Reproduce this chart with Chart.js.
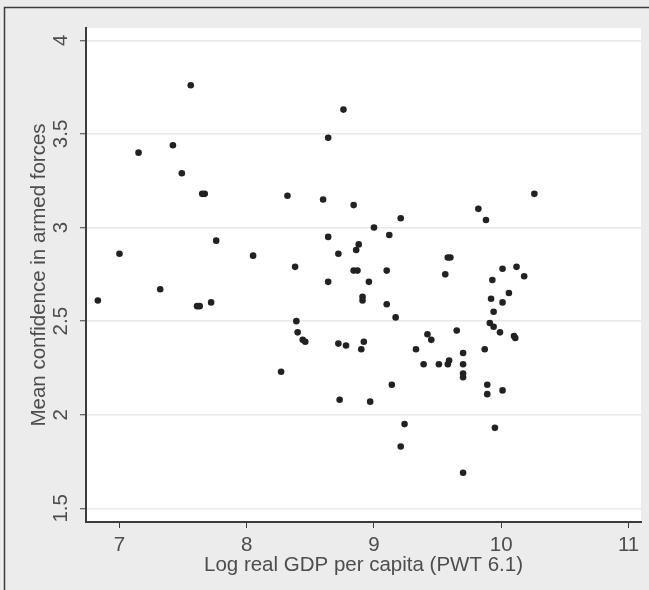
<!DOCTYPE html>
<html>
<head>
<meta charset="utf-8">
<script src="https://cdn.jsdelivr.net/npm/chart.js@4.4.1/dist/chart.umd.min.js"></script>
<style>
  html, body { margin: 0; padding: 0; background: #ececec; }
  #chart { display: block; }
</style>
</head>
<body>
<canvas id="chart" width="649" height="590"></canvas>
<script>
// log real GDP per capita (PWT 6.1)
const gdp = [
  6.83, 7.00, 7.15, 7.32, 7.42, 7.49, 7.56, 7.61, 7.63, 7.65,
  7.67, 7.72, 7.76, 8.05, 8.27, 8.32, 8.38, 8.39, 8.40, 8.44,
  8.46, 8.60, 8.64, 8.64, 8.64, 8.72, 8.73, 8.72, 8.78, 8.76,
  8.84, 8.84, 8.87, 8.86, 8.88, 8.91, 8.91, 8.90, 8.92, 8.96,
  8.97, 9.00, 9.10, 9.10, 9.12, 9.14, 9.17, 9.21, 9.21, 9.24,
  9.33, 9.39, 9.42, 9.45, 9.51, 9.56, 9.58, 9.60, 9.58, 9.59,
  9.65, 9.70, 9.70, 9.70, 9.70, 9.70, 9.82, 9.88, 9.87, 9.89,
  9.89, 9.92, 9.93, 9.91, 9.94, 9.94, 9.95, 9.99, 10.01, 10.01,
  10.01, 10.06, 10.10, 10.11, 10.12, 10.18, 10.26
];
// mean confidence in armed forces
const confidence = [
  2.61, 2.86, 3.40, 2.67, 3.44, 3.29, 3.76, 2.58, 2.58, 3.18,
  3.18, 2.60, 2.93, 2.85, 2.23, 3.17, 2.79, 2.50, 2.44, 2.40,
  2.39, 3.15, 2.95, 3.48, 2.71, 2.86, 2.08, 2.38, 2.37, 3.63,
  3.12, 2.77, 2.77, 2.88, 2.91, 2.63, 2.61, 2.35, 2.39, 2.71,
  2.07, 3.00, 2.77, 2.59, 2.96, 2.16, 2.52, 3.05, 1.83, 1.95,
  2.35, 2.27, 2.43, 2.40, 2.27, 2.75, 2.84, 2.84, 2.27, 2.29,
  2.45, 2.33, 2.27, 2.22, 2.20, 1.69, 3.10, 3.04, 2.35, 2.16,
  2.11, 2.62, 2.72, 2.49, 2.47, 2.55, 1.93, 2.44, 2.78, 2.60,
  2.13, 2.65, 2.42, 2.41, 2.79, 2.74, 3.18
];
const xTicks = [7, 8, 9, 10, 11];
const yTicks = [1.5, 2, 2.5, 3, 3.5, 4];

const FONT = "'Liberation Sans', Arial, sans-serif";
const TEXT = "#4d4d4d";
const SIZE = 20.5;

const points = gdp.map((x, i) => ({ x: x, y: confidence[i] }));

// grey graph region, frame and white plot region
const backdrop = {
  id: "backdrop",
  beforeDraw(chart) {
    const { ctx, chartArea } = chart;
    ctx.save();
    ctx.fillStyle = "#ececec";
    ctx.fillRect(0, 0, chart.width, chart.height);
    ctx.fillStyle = "#ffffff";
    ctx.fillRect(chartArea.left + 1, chartArea.top, chartArea.right - chartArea.left - 1, chartArea.bottom - chartArea.top);
    ctx.strokeStyle = "#3c3c3c";
    ctx.lineWidth = 1.5;
    ctx.beginPath();
    ctx.moveTo(4.5, chart.height);
    ctx.lineTo(4.5, 7.5);
    ctx.lineTo(chart.width, 7.5);
    ctx.stroke();
    ctx.restore();
  }
};

// stata style: y tick labels turned on their side
const yLabels = {
  id: "yLabels",
  afterDraw(chart) {
    const { ctx } = chart;
    const y = chart.scales.y;
    ctx.save();
    ctx.fillStyle = TEXT;
    ctx.font = SIZE + "px " + FONT;
    ctx.textAlign = "center";
    ctx.textBaseline = "middle";
    yTicks.forEach(v => {
      ctx.save();
      ctx.translate(61, y.getPixelForValue(v));
      ctx.rotate(-Math.PI / 2);
      ctx.fillText(String(v), 0, 0);
      ctx.restore();
    });
    ctx.restore();
  }
};

new Chart(document.getElementById("chart"), {
  type: "scatter",
  data: {
    datasets: [{
      data: points,
      pointRadius: 3.3,
      pointBackgroundColor: "#222222",
      pointBorderWidth: 0,
      pointHoverRadius: 3.3
    }]
  },
  options: {
    responsive: false,
    animation: false,
    layout: { padding: { left: 0, top: 28, right: 8, bottom: 0 } },
    plugins: {
      legend: { display: false },
      tooltip: { enabled: false }
    },
    scales: {
      x: {
        type: "linear",
        min: 6.737,
        max: 11.098,
        afterFit(scale) { scale.height = 68; },
        afterBuildTicks(scale) { scale.ticks = xTicks.map(v => ({ value: v })); },
        border: { color: "#3c3c3c", width: 2 },
        grid: { drawOnChartArea: false, tickLength: 6, tickColor: "#3c3c3c", tickWidth: 1 },
        ticks: { color: TEXT, font: { family: FONT, size: SIZE }, padding: 5, maxRotation: 0 },
        title: {
          display: true,
          text: "Log real GDP per capita (PWT 6.1)",
          color: TEXT,
          font: { family: FONT, size: SIZE },
          padding: { top: 0, bottom: 12 }
        }
      },
      y: {
        type: "linear",
        min: 1.427,
        max: 4.066,
        afterFit(scale) { scale.width = 86; },
        afterBuildTicks(scale) { scale.ticks = yTicks.map(v => ({ value: v })); },
        border: { color: "#3c3c3c", width: 2 },
        grid: { color: "#e8e8e8", lineWidth: 1.5, tickLength: 6, tickColor: "#3c3c3c", tickWidth: 1 },
        ticks: { display: false },
        title: {
          display: true,
          text: "Mean confidence in armed forces",
          color: TEXT,
          font: { family: FONT, size: SIZE },
          padding: { top: 27, bottom: 0 }
        }
      }
    }
  },
  plugins: [backdrop, yLabels]
});
</script>
</body>
</html>
